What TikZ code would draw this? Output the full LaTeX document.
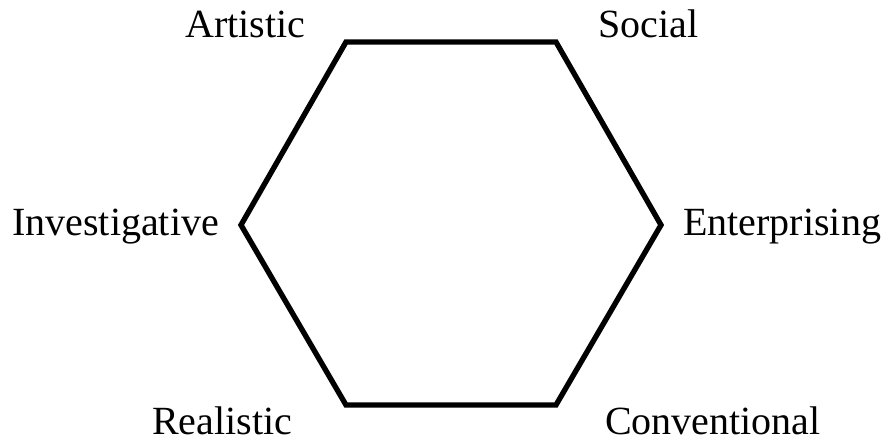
\documentclass[tikz,border=0pt]{standalone}
\usepackage{fontspec}
\setmainfont{Liberation Serif}
\usetikzlibrary{positioning}

\begin{document}
\begin{tikzpicture}[x=0.025cm, y=-0.025cm,
    label text/.style={inner sep=0pt, anchor=base west, font=\fontsize{28.45}{34}\selectfont},
    hexline/.style={line width=3.8pt, line join=miter}]
    \useasboundingbox (0,0) rectangle (883,441);
    % corners of the hexagon
    \coordinate (art) at (346,42);
    \coordinate (soc) at (556,42);
    \coordinate (ent) at (661,225);
    \coordinate (con) at (556,405);
    \coordinate (rea) at (346,405);
    \coordinate (inv) at (241,225);
    \draw[hexline] (art) -- (soc) -- (ent) -- (con) -- (rea) -- (inv) -- cycle;

    \node[label text] (artL) at (185,37) {Artistic};
    \node[label text] (socL) at (598,37) {Social};
    \node[label text] (invL) at (12,235) {Investigative};
    \node[label text] (entL) at (683,235) {Enterprising};
    \node[label text] (reaL) at (152,434) {Realistic};
    \node[label text] (conL) at (605,434) {Conventional};
\end{tikzpicture}
\end{document}
